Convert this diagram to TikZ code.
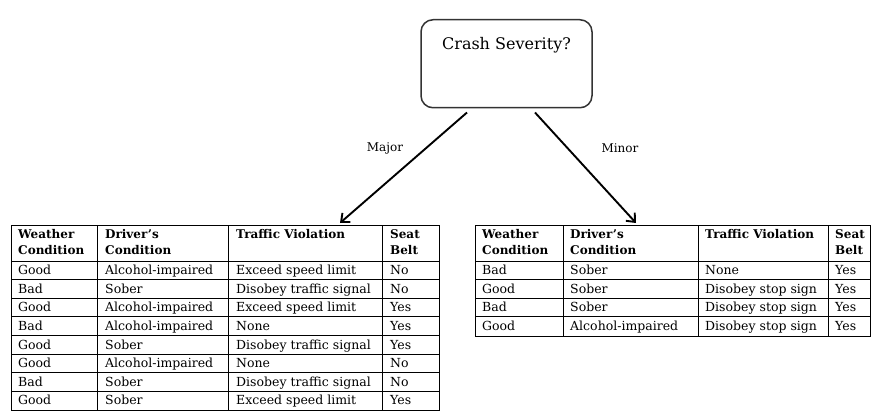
\documentclass[tikz,border=0pt]{standalone}
\usepackage{fontspec}
\setmainfont{DejaVu Serif}
\usetikzlibrary{arrows.meta}

\begin{document}
\begin{tikzpicture}[
        x=1pt, y=-1pt,
        >={Straight Barb[length=7pt,width=12pt]},
        question/.style={draw=black!80, line width=1.5pt, rounded corners=12pt, minimum width=171pt, inner sep=0pt, text height=30pt, text depth=58pt, font=\fontsize{16}{19}\selectfont},
        branch/.style={->, line width=1.9pt},
        lbl/.style={inner sep=0pt, font=\fontsize{12}{14}\selectfont},
        tablebox/.style={draw, line width=0.8pt, anchor=north west, inner sep=0pt},
        headcell/.style={anchor=north west, inner sep=0pt, align=left, font=\fontsize{12}{16}\selectfont\bfseries},
        cell/.style={anchor=base west, inner sep=0pt, font=\fontsize{12.5}{15}\selectfont}
    ]
        \useasboundingbox (0,0) rectangle (879,420);

        \node[question, anchor=north] (q) at (506.5,19) {Crash Severity?};

        % major table
        \node[tablebox, minimum width=428pt, minimum height=185pt] (majortab) at (11,225) {};
        \foreach \x in {97,228,382}
            \draw[line width=0.8pt] (\x,225) -- (\x,410);
        \foreach \i in {0,...,7}
            \draw[line width=0.8pt] (11,261+18.625*\i) -- (439,261+18.625*\i);
        \node[headcell] (maj-h1) at (18,229) {Weather\\Condition};
        \node[headcell] (maj-h2) at (105,229) {Driver's\\Condition};
        \node[headcell] (maj-h3) at (236,229) {Traffic Violation};
        \node[headcell] (maj-h4) at (390,229) {Seat\\Belt};
        \foreach [count=\i] \w/\d/\t/\s in {
                Good/Alcohol-impaired/Exceed speed limit/No,
                Bad/Sober/Disobey traffic signal/No,
                Good/Alcohol-impaired/Exceed speed limit/Yes,
                Bad/Alcohol-impaired/None/Yes,
                Good/Sober/Disobey traffic signal/Yes,
                Good/Alcohol-impaired/None/No,
                Bad/Sober/Disobey traffic signal/No,
                Good/Sober/Exceed speed limit/Yes} {
            \pgfmathsetmacro\yb{261+18.625*(\i-1)+13.5}
            \node[cell] (maj-\i-1) at (18,\yb) {\w};
            \node[cell] (maj-\i-2) at (105,\yb) {\d};
            \node[cell] (maj-\i-3) at (236,\yb) {\t};
            \node[cell] (maj-\i-4) at (390,\yb) {\s};
        }

        % minor table
        \node[tablebox, minimum width=395pt, minimum height=110.5pt] (minortab) at (475,225) {};
        \foreach \x in {563,698,828}
            \draw[line width=0.8pt] (\x,225) -- (\x,335.5);
        \foreach \i in {0,...,3}
            \draw[line width=0.8pt] (475,261+18.625*\i) -- (870,261+18.625*\i);
        \node[headcell] (min-h1) at (482,229) {Weather\\Condition};
        \node[headcell] (min-h2) at (570,229) {Driver's\\Condition};
        \node[headcell] (min-h3) at (705,229) {Traffic Violation};
        \node[headcell] (min-h4) at (835,229) {Seat\\Belt};
        \foreach [count=\i] \w/\d/\t/\s in {
                Bad/Sober/None/Yes,
                Good/Sober/Disobey stop sign/Yes,
                Bad/Sober/Disobey stop sign/Yes,
                Good/Alcohol-impaired/Disobey stop sign/Yes} {
            \pgfmathsetmacro\yb{261+18.625*(\i-1)+13.5}
            \node[cell] (min-\i-1) at (482,\yb) {\w};
            \node[cell] (min-\i-2) at (570,\yb) {\d};
            \node[cell] (min-\i-3) at (705,\yb) {\t};
            \node[cell] (min-\i-4) at (835,\yb) {\s};
        }

        % branches
        \coordinate (majorend) at (340,223);
        \coordinate (minorend) at (636,223);
        \draw[branch] ([xshift=-39.5pt,yshift=-4pt]q.south) -- (majorend);
        \draw[branch] ([xshift=28.5pt,yshift=-4pt]q.south) -- (minorend);
        \node[lbl] (major) at (385,148) {Major};
        \node[lbl] (minor) at (620,148) {Minor};
    \end{tikzpicture}
\end{document}
